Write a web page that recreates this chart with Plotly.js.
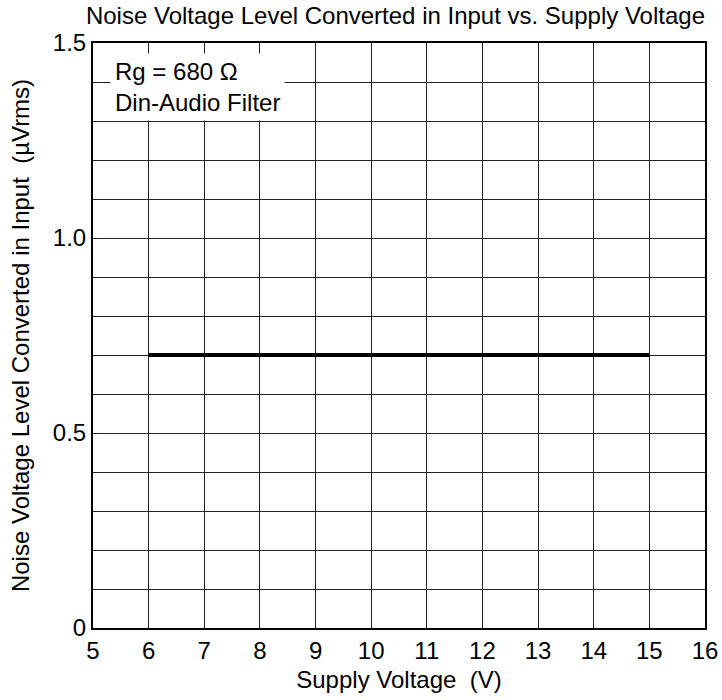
<!DOCTYPE html>
<html>
<head>
<meta charset="utf-8">
<script src="https://cdn.plot.ly/plotly-3.0.1.min.js"></script>
<style>html,body{margin:0;padding:0;background:#fff;}#chart{width:722px;height:700px;}</style>
</head>
<body>
<div id="chart"></div>
<script>
var supplyVoltage = [6, 15];
var noiseLevel = [0.7, 0.7];
var yTickVals = [0, 0.5, 1.0, 1.5];
var yTickText = ['0', '0.5', '1.0', '1.5'];
var xTickVals = [5, 6, 7, 8, 9, 10, 11, 12, 13, 14, 15, 16];
var chartTitle = 'Noise Voltage Level Converted in Input vs. Supply Voltage';
var xTitle = 'Supply Voltage\u00a0\u00a0(V)';
var yTitle = 'Noise Voltage Level Converted in Input\u00a0\u00a0(\u00b5Vrms)';
var noteText = 'Rg = 680 \u03a9<br>Din-Audio Filter';

var FAM = 'Liberation Sans, Arial, sans-serif';
var FS = 24;
function f(){ return {family: FAM, size: FS, color: '#000'}; }

var trace = {
  x: supplyVoltage, y: noiseLevel, type: 'scatter', mode: 'lines',
  line: {color: '#000', width: 4}, hoverinfo: 'none'
};

var layout = {
  width: 722, height: 700,
  margin: {l: 93, r: 17, t: 43, b: 72},
  paper_bgcolor: '#fff', plot_bgcolor: '#fff',
  showlegend: false,
  font: f(),
  title: {text: chartTitle, font: f(),
          x: 1, xref: 'paper', xanchor: 'right', y: 1 - 16/700, yref: 'container', yanchor: 'middle'},
  xaxis: {
    range: [5, 16], tickvals: xTickVals, showgrid: true, gridcolor: '#222', gridwidth: 1,
    zeroline: false, showline: true, linecolor: '#000', linewidth: 2, mirror: true,
    ticks: '', tickfont: f(), automargin: false,
    title: {text: xTitle, font: f(), standoff: 8}
  },
  yaxis: {
    range: [0, 1.5], tickvals: yTickVals, ticktext: yTickText, showgrid: true, gridcolor: '#222', gridwidth: 1,
    minor: {dtick: 0.1, tick0: 0, showgrid: true, gridcolor: '#222', gridwidth: 1, ticks: ''},
    zeroline: false, showline: true, linecolor: '#000', linewidth: 2, mirror: true,
    ticks: '', tickfont: f(), automargin: false,
    title: {text: yTitle, font: f(), standoff: 16}
  },
  annotations: [{
    text: noteText, xref: 'paper', yref: 'paper', x: 0.028, y: 0.983,
    xanchor: 'left', yanchor: 'top', align: 'left', showarrow: false,
    bgcolor: '#fff', borderpad: 4, font: f()
  }]
};

Plotly.newPlot('chart', [trace], layout, {staticPlot: true, displayModeBar: false});
</script>
</body>
</html>
